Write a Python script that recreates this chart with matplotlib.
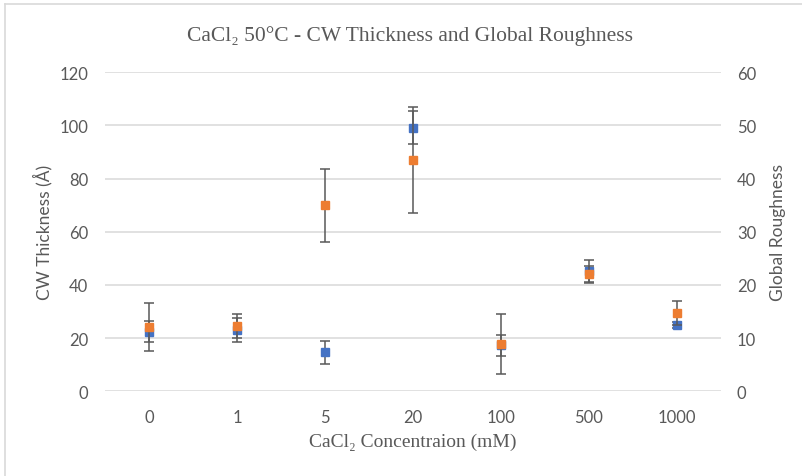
import numpy as np
import matplotlib.pyplot as plt
from matplotlib.lines import Line2D

categories = ['0', '1', '5', '20', '100', '500', '1000']
thickness = [22.4, 23.0, 14.7, 99.1, 17.3, 45.3, 24.9]
thickness_err = [3.9, 4.5, 4.4, 6.2, 3.95, 4.1, 1.25]
roughness = [12.1, 12.35, 35.0, 43.5, 8.9, 22.0, 14.66]
roughness_err = [4.6, 2.25, 6.9, 9.9, 5.6, 1.64, 2.25]

blue = '#4472C4'
orange = '#ED7D31'
txt = '#595959'
grid = '#d9d9d9'
sans = ['Lato', 'DejaVu Sans']
serif = ['Liberation Serif', 'DejaVu Serif']

fig = plt.figure(figsize=(8.03, 4.77), dpi=100)
ax = fig.add_axes([0.1308, 0.1776, 0.7671, 0.6687])
ax2 = ax.twinx()

x = np.arange(len(categories))
ax.errorbar(x, thickness, yerr=thickness_err, fmt='s', color=blue, markersize=5.3,
            ecolor='#595959', elinewidth=1.1, capsize=3.3, capthick=1.1, zorder=3)
ax2.errorbar(x, roughness, yerr=roughness_err, fmt='s', color=orange, markersize=5.3,
             ecolor='#595959', elinewidth=1.1, capsize=3.3, capthick=1.1, zorder=3)

ax.set_xlim(-0.5, len(categories) - 0.5)
ax.set_ylim(0, 120)
ax2.set_ylim(0, 60)
ax.set_yticks(np.arange(0, 121, 20))
ax2.set_yticks(np.arange(0, 61, 10))
ax.set_xticks(x)
ax.set_xticklabels(categories)
ax.grid(axis='y', color=grid, linewidth=1.1)
ax.set_axisbelow(True)

for a in (ax, ax2):
    for s in a.spines.values():
        s.set_visible(False)
    a.tick_params(length=0, colors=txt, labelsize=12)
    for lab in a.get_xticklabels() + a.get_yticklabels():
        lab.set_family(sans)
ax.tick_params(axis='y', pad=12)
ax.tick_params(axis='x', pad=13)
ax2.tick_params(axis='y', pad=11.5)

ax.set_ylabel('CW Thickness (Å)', color=txt, fontsize=12.5, family=sans, labelpad=5)
ax2.set_ylabel('Global Roughness', color=txt, fontsize=12.5, family=sans, labelpad=10)
ax.set_xlabel('CaCl₂ Concentraion (mM)', color=txt, fontsize=14, family=serif, labelpad=5)
fig.text(0.511, 0.925, 'CaCl₂ 50°C - CW Thickness and Global Roughness', ha='center', va='center',
         color=txt, fontsize=15.5, family=serif)

# chart border (partially visible)
fig.add_artist(Line2D([5 / 803, 5 / 803], [0, 1 - 5 / 477], color=grid, linewidth=1.2))
fig.add_artist(Line2D([5 / 803, 1], [1 - 5 / 477, 1 - 5 / 477], color=grid, linewidth=1.2))

fig.savefig('out.png', dpi=100)
